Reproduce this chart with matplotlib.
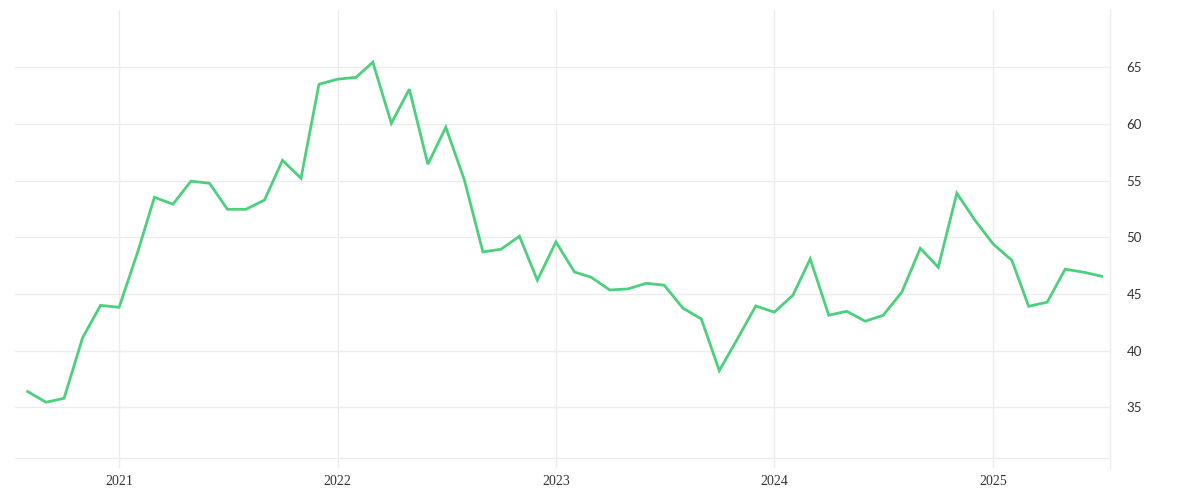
import matplotlib
matplotlib.use("Agg")
import matplotlib.pyplot as plt
import matplotlib.dates as mdates
import pandas as pd
import numpy as np

start_month = "2020-08-01"
values = [
    36.4, 35.45, 35.8, 41.15, 44.0,
    43.83, 48.7, 53.54, 52.93, 54.96, 54.78, 52.48, 52.48, 53.3, 56.8, 55.22, 63.52,
    63.96, 64.13, 65.46, 60.07, 63.08, 56.46, 59.72, 55.07, 48.72, 48.95, 50.1, 46.22,
    49.6, 46.95, 46.48, 45.36, 45.45, 45.95, 45.78, 43.77, 42.8, 38.24, 41.1, 43.95,
    43.4, 44.89, 48.1, 43.13, 43.48, 42.6, 43.13, 45.16, 49.04, 47.36, 53.9, 51.54,
    49.4, 47.98, 43.92, 44.28, 47.19, 46.93, 46.57,
]
dates = pd.date_range(start_month, periods=len(values), freq="MS")
y_ticks = [35, 40, 45, 50, 55, 60, 65]
x_tick_years = [2021, 2022, 2023, 2024, 2025]

GRID = "#ececec"
LINE = "#4cd07d"

fig = plt.figure(figsize=(12, 5), dpi=100)
ax = fig.add_axes([15/1200, 42/500, 1095/1200, 448/500])

ax.plot(dates, values, color=LINE, lw=2.0, solid_joinstyle="miter", zorder=3)

ax.set_xlim(pd.Timestamp("2020-07-11"), pd.Timestamp("2025-07-15"))
ax.set_ylim(30.53, 70.07)

ax.set_yticks(y_ticks)
ax.set_xticks([pd.Timestamp(f"{y}-01-01") for y in x_tick_years])
ax.xaxis.set_major_formatter(mdates.DateFormatter("%Y"))

ax.grid(True, color=GRID, lw=1)
for s in ["left", "top"]:
    ax.spines[s].set_visible(False)
ax.spines["bottom"].set_color(GRID)
ax.spines["bottom"].set_linewidth(1)
ax.spines["right"].set_visible(False)
ax.plot([1, 1], [-10/448, 1], transform=ax.transAxes, color=GRID, lw=1, clip_on=False, zorder=1)

ax.yaxis.tick_right()
ax.tick_params(axis="y", length=0, pad=12, labelsize=9.5, labelcolor="#333333")
ax.tick_params(axis="x", length=7.2, width=1, color=GRID, direction="out", pad=5,
               labelsize=10, labelcolor="#333333")
for lab in ax.get_yticklabels():
    lab.set_fontfamily("Lato")
for lab in ax.get_xticklabels():
    lab.set_fontfamily("Liberation Serif")

fig.savefig("out.png", dpi=100, facecolor="white")
